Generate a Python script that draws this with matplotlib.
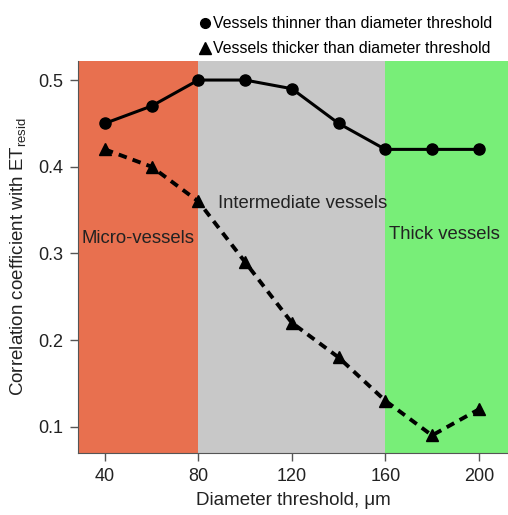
import matplotlib
matplotlib.use("Agg")
import matplotlib.pyplot as plt
from matplotlib.lines import Line2D

plt.rcParams['font.family'] = ['Liberation Sans', 'DejaVu Sans']

thresholds = [40, 60, 80, 100, 120, 140, 160, 180, 200]
thinner = [0.45, 0.47, 0.50, 0.50, 0.49, 0.45, 0.42, 0.42, 0.42]
thicker = [0.42, 0.40, 0.36, 0.29, 0.22, 0.18, 0.13, 0.09, 0.12]

regions = [(28.5, 80, '#E8704F', 'Micro-vessels'),
           (80, 160, '#C8C8C8', 'Intermediate vessels'),
           (160, 212.5, '#78EE78', 'Thick vessels')]
region_label_pos = [(30.0, 0.317), (88.5, 0.358), (161.5, 0.322)]

fig = plt.figure(figsize=(5.08, 5.15), dpi=100)
ax = fig.add_axes([0.1535, 0.1204, 0.8465, 0.7612])

for (x0, x1, c, name), (lx, ly) in zip(regions, region_label_pos):
    ax.axvspan(x0, x1, color=c, lw=0, zorder=0)
    ax.text(lx, ly, name, fontsize=13.3, color='#222222', ha='left', va='center', zorder=1)

ax.plot(thresholds, thinner, '-o', color='black', lw=2.2, ms=8, zorder=3)
ax.plot(thresholds, thicker, '--^', color='black', lw=2.8, ms=9, dashes=(2.2, 1.6), zorder=3)

ax.set_xlim(28.5, 212.5)
ax.set_ylim(0.0697, 0.522)
ax.set_xticks([40, 80, 120, 160, 200])
ax.set_yticks([0.1, 0.2, 0.3, 0.4, 0.5])
ax.tick_params(labelsize=13, length=5.5, width=1, colors='#555555', labelcolor='#222222', pad=5)
for s in ['top', 'right']:
    ax.spines[s].set_visible(False)
for s in ['left', 'bottom']:
    ax.spines[s].set_color('#555555')

ax.set_xlabel('Diameter threshold, μm', fontsize=13.5, color='#222222', labelpad=5)
ax.set_ylabel(r'Correlation coefficient with ET$_{\mathregular{resid}}$', fontsize=13.5,
              color='#222222', labelpad=7)

handles = [Line2D([], [], ls='none', marker='o', color='black', ms=7),
           Line2D([], [], ls='none', marker='^', color='black', ms=8)]
fig.legend(handles, ['Vessels thinner than diameter threshold',
                     'Vessels thicker than diameter threshold'],
           loc='upper right', bbox_to_anchor=(0.997, 0.996), frameon=False,
           fontsize=11.4, handletextpad=-0.1, labelspacing=0.62, handlelength=1.2)

fig.savefig('out.png', dpi=100)
